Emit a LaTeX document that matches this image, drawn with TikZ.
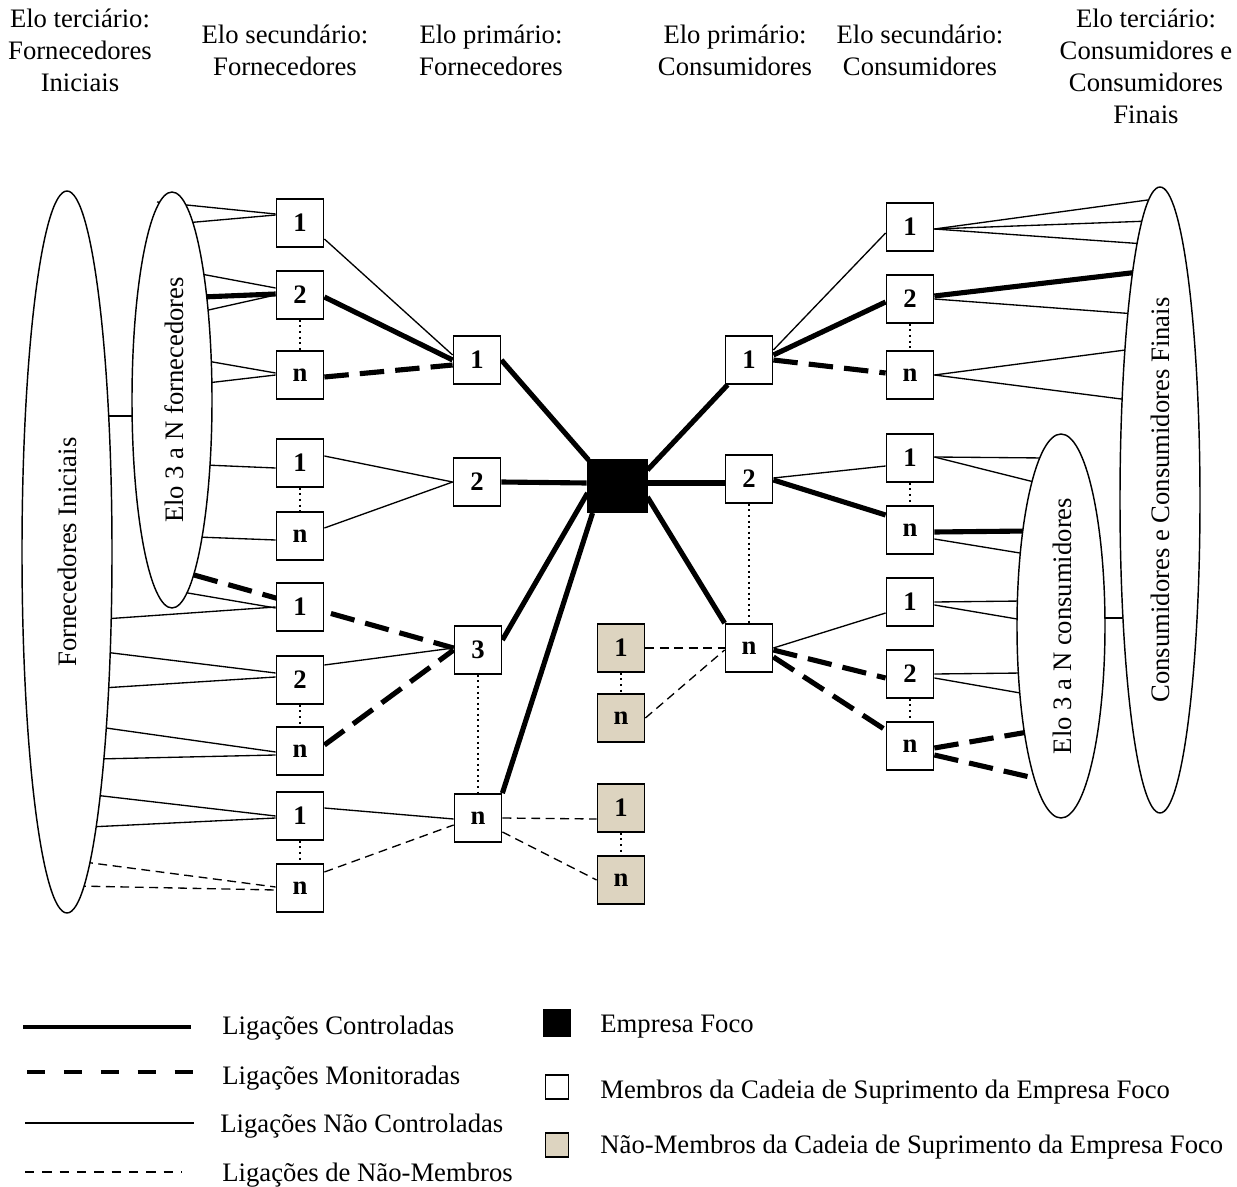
\documentclass[tikz,border=0pt]{standalone}
\usepackage{fontspec}
\setmainfont{Liberation Serif}
\usetikzlibrary{calc}
\definecolor{nmfill}{RGB}{221,212,192}
\pgfdeclarelayer{links}
\pgfdeclarelayer{ovals}
\pgfsetlayers{links,ovals,main}

\begin{document}
\begin{tikzpicture}[x=0.45pt,y=-0.45pt,
  every node/.style={font=\fontsize{12}{14.4}\selectfont},
  member/.style={draw, line width=0.75pt, fill=white, minimum width=21.2pt,
    minimum height=21.6pt, inner sep=0pt, font=\fontsize{12}{14.4}\selectfont\bfseries},
  nonmember/.style={member, fill=nmfill},
  focus/.style={draw, fill=black, minimum width=27pt, minimum height=23.9pt, inner sep=0pt},
  ctrl/.style={line width=2.3pt},
  monit/.style={line width=2.3pt, dash pattern=on 11pt off 5pt},
  unctrl/.style={line width=0.6pt},
  nonmem/.style={line width=0.6pt, dash pattern=on 4pt off 2.5pt},
  gap/.style={line width=0.9pt, dash pattern=on 0.9pt off 1.6pt},
  tier/.style={draw, line width=0.65pt, fill=white},
  legtext/.style={anchor=west, inner sep=0pt}
]
\useasboundingbox (0,0) rectangle (1237,1187);

% ---------- column headings ----------
\node[align=center] (h1) at (80,50) {Elo terciário:\\Fornecedores\\Iniciais};
\node[align=center] (h2) at (285,50) {Elo secundário:\\Fornecedores};
\node[align=center] (h3) at (491,50) {Elo primário:\\Fornecedores};
\node[align=center] (h4) at (735,50) {Elo primário:\\Consumidores};
\node[align=center] (h5) at (920,50) {Elo secundário:\\Consumidores};
\node[align=center] (h6) at (1146,66) {Elo terciário:\\Consumidores e\\Consumidores\\Finais};

% ---------- supplier side ----------
\node[member] (L1) at (300,223) {1};
\node[member] (L2) at (300,295) {2};
\node[member] (L3) at (300,375) {n};
\node[member] (L4) at (300,463) {1};
\node[member] (L5) at (300,536) {n};
\node[member] (L6) at (300,607) {1};
\node[member] (L7) at (300,680) {2};
\node[member] (L8) at (300,751) {n};
\node[member] (L9) at (300,816) {1};
\node[member] (L10) at (300,888) {n};

\node[member] (A1) at (477,360) {1};
\node[member] (A2) at (477,482) {2};
\node[member] (A3) at (478,650) {3};
\node[member] (A4) at (478,818) {n};

\node[focus] (F) at (617,486) {};

% ---------- customer side ----------
\node[member] (B1) at (749,360) {1};
\node[member] (B2) at (749,479) {2};
\node[member] (B3) at (749,648) {n};

\node[member] (R1) at (910,227) {1};
\node[member] (R2) at (910,299) {2};
\node[member] (R3) at (910,375) {n};
\node[member] (R4) at (910,458) {1};
\node[member] (R5) at (910,530) {n};
\node[member] (R6) at (910,602) {1};
\node[member] (R7) at (910,674) {2};
\node[member] (R8) at (910,746) {n};

% ---------- non-members ----------
\node[nonmember] (T1) at (621,648) {1};
\node[nonmember] (T2) at (621,718) {n};
\node[nonmember] (T3) at (621,808) {1};
\node[nonmember] (T4) at (621,880) {n};

% ---------- labels of the tiers ----------
\node[rotate=90] (tE1) at (67,552) {Fornecedores Iniciais};
\node[rotate=90] (tE2) at (174,400) {Elo 3 a N fornecedores};
\node[rotate=90] (tE3) at (1062,626) {Elo 3 a N consumidores};
\node[rotate=90] (tE4) at (1160,500) {Consumidores e Consumidores Finais};

% ---------- tier ovals ----------
\begin{pgfonlayer}{ovals}
\draw[tier] (67,552) ellipse [x radius=45, y radius=361];
\draw[tier] (172,400) ellipse [x radius=40, y radius=208];
\draw[tier] (1061,626) ellipse [x radius=44, y radius=192];
\draw[tier] (1160,500) ellipse [x radius=40, y radius=313];
\end{pgfonlayer}

% ---------- end points on the ovals ----------
\coordinate (a1) at (157,202);
\coordinate (a2) at (185,223);
\coordinate (a3) at (201,274);
\coordinate (a4) at (202,297);
\coordinate (a5) at (204,311);
\coordinate (a6) at (207,361);
\coordinate (a7) at (207,383);
\coordinate (a8) at (205,465);
\coordinate (a9) at (197,537);
\coordinate (a10) at (194,575);
\coordinate (a11) at (182,592);
\coordinate (a12) at (140,416);
\coordinate (b1) at (104,619);
\coordinate (b2) at (104,652);
\coordinate (b3) at (102,688);
\coordinate (b4) at (99,727);
\coordinate (b5) at (97,759);
\coordinate (b6) at (94,795);
\coordinate (b7) at (89,827);
\coordinate (b8) at (84,862);
\coordinate (b9) at (77,886);
\coordinate (b10) at (100,416);
\coordinate (c1) at (1155,199);
\coordinate (c2) at (1150,221);
\coordinate (c3) at (1145,244);
\coordinate (c4) at (1139,272);
\coordinate (c5) at (1136,314);
\coordinate (c6) at (1133,349);
\coordinate (c7) at (1129,400);
\coordinate (c8) at (1130,618);
\coordinate (d1) at (1045,458);
\coordinate (d2) at (1038,483);
\coordinate (d3) at (1028,531);
\coordinate (d4) at (1026,554);
\coordinate (d5) at (1023,601);
\coordinate (d6) at (1023,620);
\coordinate (d7) at (1023,673);
\coordinate (d8) at (1026,694);
\coordinate (d9) at (1028,732);
\coordinate (d10) at (1034,778);
\coordinate (d11) at (1095,618);

% ---------- links ----------
\begin{pgfonlayer}{links}
% oval to secondary suppliers
\draw[unctrl] (a1) -- ($(L1.west)+(0,-9)$);
\draw[unctrl] (a2) -- ($(L1.west)+(0,-8)$);
\draw[unctrl] (a3) -- ($(L2.west)+(0,-7)$);
\draw[ctrl]   (a4) -- ($(L2.west)+(0,-1)$);
\draw[unctrl] (a5) -- (L2.west);
\draw[unctrl] (a6) -- ($(L3.west)+(0,-2)$);
\draw[unctrl] (a7) -- (L3.west);
\draw[unctrl] (a8) -- ($(L4.west)+(0,5)$);
\draw[unctrl] (a9) -- ($(L5.west)+(0,4)$);
\draw[unctrl] (a11) -- ($(L6.west)+(0,1)$);
\draw[monit]  (a10) -- ($(A3.west)+(0,-2)$);
\draw[unctrl] (b1) -- (L6.west);
\draw[unctrl] (b2) -- ($(L7.west)+(0,-7)$);
\draw[unctrl] (b3) -- ($(L7.west)+(0,-3)$);
\draw[unctrl] (b4) -- ($(L8.west)+(0,1)$);
\draw[unctrl] (b5) -- ($(L8.west)+(0,4)$);
\draw[unctrl] (b6) -- (L9.west);
\draw[unctrl] (b7) -- ($(L9.west)+(0,2)$);
\draw[nonmem] (b8) -- ($(L10.west)+(0,-1)$);
\draw[nonmem] (b9) -- ($(L10.west)+(0,2)$);
\draw[unctrl] (b10) -- (a12);

% secondary to primary suppliers
\draw[unctrl] ($(L1.east)+(0,16)$) -- ($(A1.west)+(0,-5)$);
\draw[ctrl]   ($(L2.east)+(0,2)$) -- (A1.west);
\draw[monit]  ($(L3.east)+(0,2)$) -- ($(A1.west)+(0,5)$);
\draw[unctrl] ($(L4.east)+(0,-7)$) -- (A2.west);
\draw[unctrl] ($(L5.east)+(0,-8)$) -- (A2.west);
\draw[unctrl] ($(L7.east)+(0,-15)$) -- ($(A3.west)+(0,-2)$);
\draw[monit]  ($(L8.east)+(0,-6)$) -- (A3.west);
\draw[unctrl] ($(L9.east)+(0,-8)$) -- ($(A4.west)+(0,1)$);
\draw[nonmem] ($(L10.east)+(0,-16)$) -- ($(A4.west)+(0,7)$);

% focal company
\draw[ctrl] (A1.east) -- ($(F.north west)+(2,1)$);
\draw[ctrl] (A2.east) -- ($(F.west)+(0,-3)$);
\draw[ctrl] ($(A3.east)+(0,-10)$) -- ($(F.west)+(1,7)$);
\draw[ctrl] (A4.north east) -- ($(F.south west)+(6,0)$);
\draw[ctrl] ($(F.north east)+(0,11)$) -- ($(B1.south west)+(3,0)$);
\draw[ctrl] ($(F.east)+(0,-3)$) -- ($(B2.west)+(0,4)$);
\draw[ctrl] ($(F.east)+(0,11)$) -- (B3.north west);

% primary to secondary customers
\draw[unctrl] ($(B1.east)+(0,-10)$) -- ($(R1.west)+(0,6)$);
\draw[ctrl]   ($(B1.east)+(0,-5)$) -- ($(R2.west)+(0,3)$);
\draw[monit]  (B1.east) -- ($(R3.west)+(0,-2)$);
\draw[unctrl] ($(B2.east)+(0,-1)$) -- ($(R4.west)+(0,8)$);
\draw[ctrl]   ($(B2.east)+(0,1)$) -- ($(R5.west)+(0,-15)$);
\draw[unctrl] (B3.east) -- ($(R6.west)+(0,11)$);
\draw[monit]  ($(B3.east)+(0,2)$) -- ($(R7.west)+(0,4)$);
\draw[monit]  ($(B3.east)+(0,9)$) -- ($(R8.west)+(0,-16)$);

% secondary customers to ovals
\draw[unctrl] ($(R1.east)+(0,2)$) -- (c1);
\draw[unctrl] ($(R1.east)+(0,2)$) -- (c2);
\draw[unctrl] ($(R1.east)+(0,2)$) -- (c3);
\draw[ctrl]   ($(R2.east)+(0,-3)$) -- (c4);
\draw[unctrl] (R2.east) -- (c5);
\draw[unctrl] (R3.east) -- (c6);
\draw[unctrl] (R3.east) -- (c7);
\draw[unctrl] ($(R4.east)+(0,-1)$) -- (d1);
\draw[unctrl] ($(R4.east)+(0,-1)$) -- (d2);
\draw[ctrl]   ($(R5.east)+(0,2)$) -- (d3);
\draw[unctrl] ($(R5.east)+(0,9)$) -- (d4);
\draw[unctrl] (R6.east) -- (d5);
\draw[unctrl] ($(R6.east)+(0,3)$) -- (d6);
\draw[unctrl] (R7.east) -- (d7);
\draw[unctrl] ($(R7.east)+(0,4)$) -- (d8);
\draw[monit]  ($(R8.east)+(0,2)$) -- (d9);
\draw[monit]  ($(R8.east)+(0,9)$) -- (d10);
\draw[unctrl] (d11) -- (c8);

% non-member links
\draw[nonmem] (T1.east) -- (B3.west);
\draw[nonmem] (T2.east) -- ($(B3.west)+(0,2)$);
\draw[nonmem] (A4.east) -- ($(T3.west)+(0,11)$);
\draw[nonmem] ($(A4.east)+(0,14)$) -- (T4.west);

% omitted members
\draw[gap] (L2.south) -- (L3.north);
\draw[gap] (L4.south) -- (L5.north);
\draw[gap] (L7.south) -- (L8.north);
\draw[gap] (L9.south) -- (L10.north);
\draw[gap] (A3.south) -- (A4.north);
\draw[gap] (B2.south) -- (B3.north);
\draw[gap] (R2.south) -- (R3.north);
\draw[gap] (R4.south) -- (R5.north);
\draw[gap] (R7.south) -- (R8.north);
\draw[gap] (T1.south) -- (T2.north);
\draw[gap] (T3.south) -- (T4.north);
\end{pgfonlayer}

% ---------- legend ----------
\coordinate (k1a) at (23,1027);  \coordinate (k1b) at (191,1027);
\coordinate (k2a) at (27,1072);  \coordinate (k2b) at (193,1072);
\coordinate (k3a) at (25,1123);  \coordinate (k3b) at (194,1123);
\coordinate (k4a) at (25,1172);  \coordinate (k4b) at (182,1172);
\draw[line width=2.1pt] (k1a) -- (k1b);
\draw[line width=2.1pt, dash pattern=on 8.2pt off 8.4pt] (k2a) -- (k2b);
\draw[line width=0.6pt] (k3a) -- (k3b);
\draw[line width=0.6pt, dash pattern=on 4.2pt off 3.6pt] (k4a) -- (k4b);
\node[legtext] (k1) at (222,1028) {Ligações Controladas};
\node[legtext] (k2) at (222,1078) {Ligações Monitoradas};
\node[legtext] (k3) at (220,1126) {Ligações Não Controladas};
\node[legtext] (k4) at (222,1175) {Ligações de Não-Membros};

\node[draw, fill=black, minimum width=12pt, minimum height=12.5pt, inner sep=0pt] (s1) at (557,1023) {};
\node[draw, line width=0.7pt, fill=white, minimum width=10.5pt, minimum height=11pt, inner sep=0pt] (s2) at (557,1087) {};
\node[draw, line width=0.7pt, fill=nmfill, minimum width=10.5pt, minimum height=11pt, inner sep=0pt] (s3) at (557,1145) {};
\node[legtext] (s1t) at (600,1027) {Empresa Foco};
\node[legtext] (s2t) at (600,1092) {Membros da Cadeia de Suprimento da Empresa Foco};
\node[legtext] (s3t) at (600,1147) {Não-Membros da Cadeia de Suprimento da Empresa Foco};
\end{tikzpicture}
\end{document}
